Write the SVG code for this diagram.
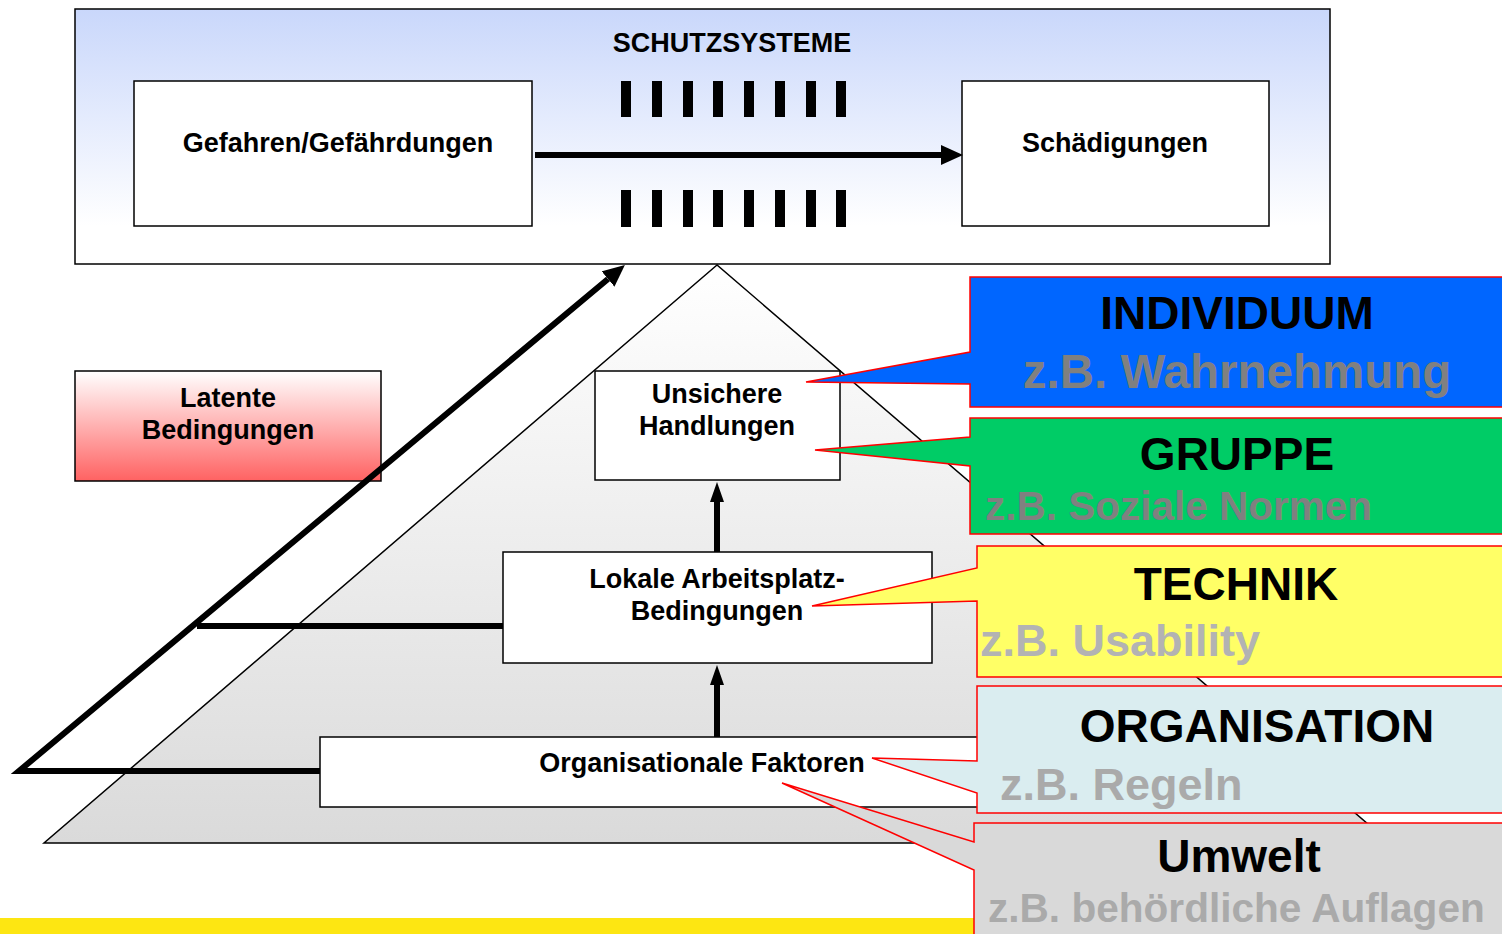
<svg xmlns="http://www.w3.org/2000/svg" width="1502" height="934" viewBox="0 0 1502 934">
<defs>
<linearGradient id="gTop" x1="0" y1="0" x2="0" y2="1"><stop offset="0" stop-color="#c9d7fb"/><stop offset="0.85" stop-color="#ffffff"/></linearGradient>
<linearGradient id="gPyr" x1="0" y1="0" x2="0" y2="1"><stop offset="0" stop-color="#ffffff"/><stop offset="1" stop-color="#dadada"/></linearGradient>
<linearGradient id="gLat" x1="0" y1="0" x2="0" y2="1"><stop offset="0" stop-color="#ffffff"/><stop offset="1" stop-color="#ff6262"/></linearGradient>
<marker id="ah" markerUnits="userSpaceOnUse" markerWidth="22" markerHeight="20" refX="0" refY="10" orient="auto" viewBox="0 0 22 20"><path d="M0,0 L22,10 L0,20 Z" fill="#000"/></marker>
<marker id="ahs" markerUnits="userSpaceOnUse" markerWidth="20" markerHeight="14" refX="0" refY="7" orient="auto" viewBox="0 0 20 14"><path d="M0,0 L20,7 L0,14 Z" fill="#000"/></marker>
</defs>
<style>
text{font-family:"Liberation Sans",Arial,sans-serif;font-weight:bold}
.t{font-size:27px;fill:#000;text-anchor:middle}
.h{font-size:46px;fill:#000;text-anchor:middle}
.s{fill:#808080}
.box{fill:#fff;stroke:#000;stroke-width:1.5}
.co{stroke:#ff0000;stroke-width:1.5}
.bar{fill:#000}
.con{fill:none;stroke:#000;stroke-width:6}
</style>
<rect x="0" y="918" width="980" height="16" fill="#fde612"/>
<g id="schutzsysteme">
<rect x="75" y="9" width="1255" height="255" fill="url(#gTop)" stroke="#000" stroke-width="1.5"/>
<text class="t" x="732" y="52">SCHUTZSYSTEME</text>
<g class="bar">
<rect x="621" y="81" width="10" height="36"/><rect x="652" y="81" width="10" height="36"/><rect x="683" y="81" width="10" height="36"/><rect x="713" y="81" width="10" height="36"/><rect x="744" y="81" width="10" height="36"/><rect x="775" y="81" width="10" height="36"/><rect x="806" y="81" width="10" height="36"/><rect x="836" y="81" width="10" height="36"/>
<rect x="621" y="190" width="10" height="37"/><rect x="652" y="190" width="10" height="37"/><rect x="683" y="190" width="10" height="37"/><rect x="713" y="190" width="10" height="37"/><rect x="744" y="190" width="10" height="37"/><rect x="775" y="190" width="10" height="37"/><rect x="806" y="190" width="10" height="37"/><rect x="836" y="190" width="10" height="37"/>
</g>
</g>
<g id="gefahren"><rect class="box" x="134" y="81" width="398" height="145"/><text class="t" x="338" y="152">Gefahren/Gefährdungen</text></g>
<g id="schaedigungen"><rect class="box" x="962" y="81" width="307" height="145"/><text class="t" x="1115" y="152">Schädigungen</text></g>
<g id="pyramide"><polygon points="717,265 44,843 1390,843" fill="url(#gPyr)" stroke="#000" stroke-width="1.5"/></g>
<g id="latente"><rect x="75" y="371" width="306" height="110" fill="url(#gLat)" stroke="#000" stroke-width="1.5"/><text class="t" x="228" y="407">Latente</text><text class="t" x="228" y="439">Bedingungen</text></g>
<g id="unsichere"><rect class="box" x="595" y="371" width="245" height="109"/><text class="t" x="717" y="403">Unsichere</text><text class="t" x="717" y="435">Handlungen</text></g>
<g id="lokale"><rect class="box" x="503" y="552" width="429" height="111"/><text class="t" x="717" y="588">Lokale Arbeitsplatz-</text><text class="t" x="717" y="620">Bedingungen</text></g>
<g id="organisationale"><rect class="box" x="320" y="737" width="765" height="70"/><text class="t" x="702" y="772">Organisationale Faktoren</text></g>
<g id="connectors">
<line class="con" x1="535" y1="155" x2="941" y2="155" marker-end="url(#ah)"/>
<line class="con" x1="717" y1="552" x2="717" y2="502" stroke-width="5" marker-end="url(#ahs)"/>
<line class="con" x1="717" y1="737" x2="717" y2="685" stroke-width="5" marker-end="url(#ahs)"/>
<polyline class="con" points="320,771 19,771 608,279" stroke-linejoin="miter" marker-end="url(#ah)"/>
<line class="con" x1="197" y1="626" x2="503" y2="626"/>
</g>
<g id="individuum"><path class="co" d="M970,277 H1510 V407 H970 V384 L806,382 L970,352 Z" fill="#0066ff"/><text class="h" x="1237" y="329">INDIVIDUUM</text><text class="h s" x="1237" y="388" style="font-size:47.5px">z.B. Wahrnehmung</text></g>
<g id="gruppe"><path class="co" d="M970,418 H1510 V534 H970 V466 L815,450 L970,437 Z" fill="#00cc66"/><text class="h" x="1237" y="470">GRUPPE</text><text class="s" x="985" y="520" font-size="40.5">z.B. Soziale Normen</text></g>
<g id="technik"><path class="co" d="M977,546 H1510 V677 H977 V601 L812,606 L977,568 Z" fill="#ffff66"/><text class="h" x="1236" y="600">TECHNIK</text><text x="980" y="656" font-size="45" fill="#b3b3b3">z.B. Usability</text></g>
<g id="organisation"><path class="co" d="M977,686 H1510 V813 H977 V793 L872,758 L977,761 Z" fill="#daedf0"/><text class="h" x="1257" y="742">ORGANISATION</text><text x="1000" y="800" font-size="45" fill="#aaaaaa">z.B. Regeln</text></g>
<g id="umwelt"><path class="co" d="M974,823 H1510 V940 H974 V870 L782,783 L974,842 Z" fill="#d9d9d9"/><text class="h" x="1239" y="872">Umwelt</text><text x="988" y="922" font-size="40.6" fill="#aaaaaa">z.B. behördliche Auflagen</text></g>
</svg>
